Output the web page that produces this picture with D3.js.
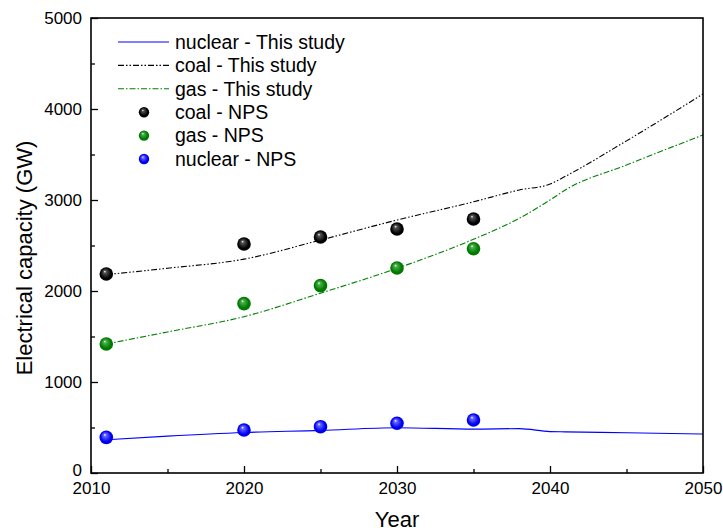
<!DOCTYPE html>
<html>
<head>
<meta charset="utf-8">
<script src="https://cdn.jsdelivr.net/npm/d3@7"></script>
<style>
  body { margin: 0; background: #fff; }
  text { font-family: "Liberation Sans", Arial, sans-serif; }
</style>
</head>
<body>
<div id="chart"></div>
<script>
// "This study" lines
var studyYears   = [2011, 2015, 2020, 2025, 2030, 2035, 2038, 2040, 2041, 2045, 2050];
var nuclearStudy = [365, 405, 445, 468, 498, 482, 488, 455, 452, 442, 428];
var coalStudy    = [2180, 2250, 2350, 2560, 2780, 2980, 3110, 3175, 3260, 3650, 4165];
var gasStudy     = [1418, 1550, 1718, 1976, 2249, 2568, 2800, 3000, 3110, 3385, 3714];

// NPS points
var npsYears   = [2011, 2020, 2025, 2030, 2035];
var coalNPS    = [2187, 2516, 2593, 2681, 2791];
var gasNPS     = [1418, 1861, 2059, 2253, 2465];
var nuclearNPS = [392, 472, 509, 546, 582];

var xTicks = [2010, 2020, 2030, 2040, 2050];
var yTicks = [0, 1000, 2000, 3000, 4000, 5000];

var margin = {top: 18, right: 20, bottom: 58, left: 91},
    width = 703 - margin.left,
    height = 473 - margin.top;

var x = d3.scaleLinear().domain([2010, 2050]).range([0, width]);
var y = d3.scaleLinear().domain([0, 5000]).range([height, 0]);

var svg = d3.select("#chart").append("svg")
    .attr("width", 723)
    .attr("height", 531);

// sphere gradients for markers
var defs = svg.append("defs");
[["black", "#000", "#555"], ["green", "#007a00", "#4fb04f"], ["blue", "#0000f0", "#6a6aff"]].forEach(function(c) {
  var g = defs.append("radialGradient")
      .attr("id", "ball-" + c[0])
      .attr("cx", "50%").attr("cy", "50%").attr("r", "55%")
      .attr("fx", "38%").attr("fy", "30%");
  g.append("stop").attr("offset", "0%").attr("stop-color", "#fff");
  g.append("stop").attr("offset", "18%").attr("stop-color", c[2]);
  g.append("stop").attr("offset", "70%").attr("stop-color", c[1]);
  g.append("stop").attr("offset", "100%").attr("stop-color", c[1]);
});

var g = svg.append("g")
    .attr("transform", "translate(" + margin.left + "," + margin.top + ")");

// lines
var line = d3.line()
    .x(function(d) { return x(d[0]); })
    .y(function(d) { return y(d[1]); })
    .curve(d3.curveMonotoneX);

var series = [
  {vals: nuclearStudy, color: "#0000ff", dash: null},
  {vals: coalStudy, color: "#000", dash: "6,2,1.5,2,1.5,2"},
  {vals: gasStudy, color: "#008000", dash: "6,2,1.5,2"}
];

series.forEach(function(s) {
  g.append("path")
      .datum(studyYears.map(function(yr, i) { return [yr, s.vals[i]]; }))
      .attr("fill", "none")
      .attr("stroke", s.color)
      .attr("stroke-width", 1.1)
      .attr("stroke-dasharray", s.dash)
      .attr("d", line);
});

// NPS markers
[[coalNPS, "black"], [gasNPS, "green"], [nuclearNPS, "blue"]].forEach(function(s) {
  g.selectAll(".m-" + s[1])
      .data(npsYears.map(function(yr, i) { return [yr, s[0][i]]; }))
    .enter().append("circle")
      .attr("cx", function(d) { return x(d[0]); })
      .attr("cy", function(d) { return y(d[1]); })
      .attr("r", 6.8)
      .attr("fill", "url(#ball-" + s[1] + ")");
});

// axes (ticks inward)
var xAxis = g.append("g")
    .attr("transform", "translate(0," + height + ")")
    .call(d3.axisBottom(x).tickValues(xTicks).tickFormat(d3.format("d")).tickSize(-7).tickPadding(9));
xAxis.selectAll("text").attr("font-size", 17).attr("fill", "#000");

var xMinor = g.append("g")
    .attr("transform", "translate(0," + height + ")")
    .call(d3.axisBottom(x).tickValues([2015, 2025, 2035, 2045]).tickFormat("").tickSize(-4));

var yAxis = g.append("g")
    .call(d3.axisLeft(y).tickValues(yTicks).tickFormat(d3.format("d")).tickSize(-7).tickPadding(9));
yAxis.selectAll("text").attr("font-size", 17).attr("fill", "#000");
// the "0" sits just above the 2010 label
yAxis.selectAll(".tick").filter(function(d) { return d === 0; })
    .select("text").attr("dy", "0.12em");

var yMinor = g.append("g")
    .call(d3.axisLeft(y).tickValues([500, 1500, 2500, 3500, 4500]).tickFormat("").tickSize(-4));

[xAxis, xMinor, yAxis, yMinor].forEach(function(a) {
  a.select(".domain").remove();
  a.selectAll("line").attr("stroke", "#000").attr("stroke-width", 1.3);
});

// frame
g.append("rect")
    .attr("width", width)
    .attr("height", height)
    .attr("fill", "none")
    .attr("stroke", "#000")
    .attr("stroke-width", 1.6);

// axis titles
svg.append("text")
    .attr("x", margin.left + width / 2)
    .attr("y", 527)
    .attr("text-anchor", "middle")
    .attr("font-size", 22)
    .text("Year");

svg.append("text")
    .attr("transform", "translate(32,258) rotate(-90)")
    .attr("text-anchor", "middle")
    .attr("font-size", 22)
    .text("Electrical capacity (GW)");

// legend
var legendItems = [
  {label: "nuclear - This study", type: "line", color: "#0000ff", dash: null},
  {label: "coal - This study", type: "line", color: "#000", dash: "6,2,1.5,2,1.5,2"},
  {label: "gas - This study", type: "line", color: "#008000", dash: "6,2,1.5,2"},
  {label: "coal - NPS", type: "ball", color: "black"},
  {label: "gas - NPS", type: "ball", color: "green"},
  {label: "nuclear - NPS", type: "ball", color: "blue"}
];

var legend = svg.append("g");
legendItems.forEach(function(d, i) {
  var ly = 42 + i * 23.4;
  if (d.type == "line") {
    legend.append("line")
        .attr("x1", 118).attr("x2", 169)
        .attr("y1", ly).attr("y2", ly)
        .attr("stroke", d.color)
        .attr("stroke-width", 1.1)
        .attr("stroke-dasharray", d.dash);
  } else {
    legend.append("circle")
        .attr("cx", 144).attr("cy", ly)
        .attr("r", 5.2)
        .attr("fill", "url(#ball-" + d.color + ")");
  }
  legend.append("text")
      .attr("x", 175)
      .attr("y", ly)
      .attr("dy", "0.35em")
      .attr("font-size", 19.5)
      .text(d.label);
});
</script>
</body>
</html>
